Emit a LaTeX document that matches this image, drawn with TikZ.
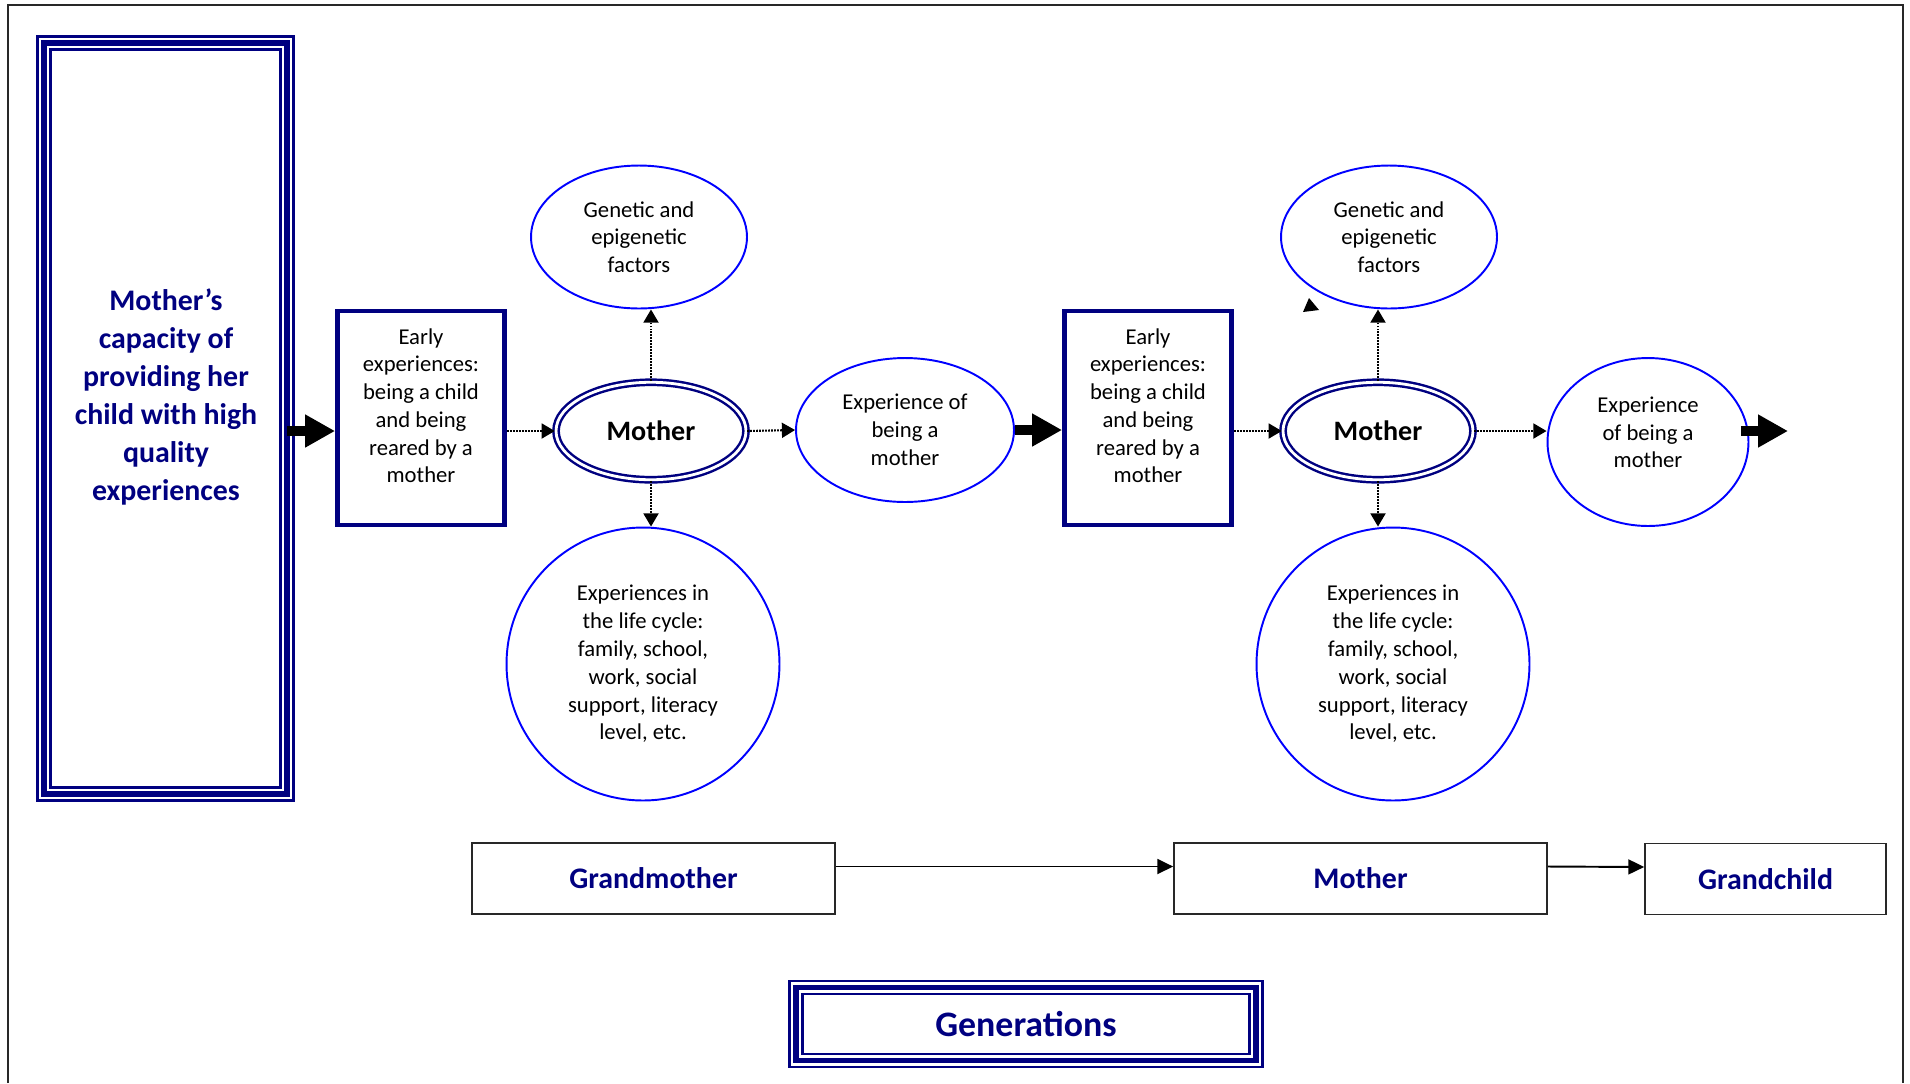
\documentclass[tikz,border=0pt]{standalone}
\usepackage{fontspec}
\setmainfont{Carlito}
\usepackage{tikz}
\usepackage{xcolor}
\usetikzlibrary{shapes.geometric, arrows.meta, positioning, calc}

\definecolor{navy}{RGB}{0,0,128}
\definecolor{ringblue}{RGB}{0,0,255}
\definecolor{framegray}{RGB}{40,40,40}

\tikzset{
  smalltext/.style={font=\fontsize{12.9}{15.8}\selectfont, align=center},
  triplebox/.style={draw=navy, line width=9pt, outer sep=0pt, inner sep=0pt,
    postaction={draw=white, line width=6pt},
    postaction={draw=navy, line width=3pt}},
  earlybox/.style={smalltext, draw=navy, line width=2.8pt, minimum width=3.34cm, minimum height=4.28cm,
    inner sep=0pt, text depth=14pt},
  motherring/.style={ellipse, draw=navy, line width=1.4pt, double=white, double distance=1.6pt,
    minimum width=3.8cm, minimum height=1.95cm, inner sep=0pt, font=\fontsize{16}{19}\selectfont\bfseries},
  bubble/.style={ellipse, smalltext, draw=ringblue, line width=1.1pt, inner sep=0pt},
  genbox/.style={draw=framegray, line width=1pt, minimum height=1.42cm, inner sep=0pt,
    text=navy, font=\fontsize{17}{19}\selectfont\bfseries},
  dotarrow/.style={dash pattern=on 1pt off 0.7pt, line width=1.2pt, -{Triangle[length=7.5pt, width=8.5pt]}},
  bigarrow/.style={line width=5.7pt, -{Triangle[length=17pt, width=17.6pt]}},
  genarrow/.style={line width=1.1pt, -{Triangle[length=9pt, width=8.5pt]}}
}

\begin{document}
\begin{tikzpicture}[x=0.02cm, y=-0.02cm]
\useasboundingbox (0,0) rectangle (1910,1083);

% Outer frame
\draw[framegray, line width=1.2pt] (8,1083) -- (8,5) -- (1903,5) -- (1903,1083);

% Left column
\node[triplebox, minimum width=4.86cm, minimum height=15.02cm] (cap) at (165.5,418.5) {};
\node[text=navy, align=center, font=\fontsize{17}{21.6}\selectfont\bfseries] (capText) at (166,397)
  {Mother's\\capacity of\\providing her\\child with high\\quality\\experiences};

% First generation
\node[earlybox] (early1) at (421,418) {Early\\experiences:\\being a child\\and being\\reared by a\\mother};
\node[motherring] (mother1) at (651,431) {Mother};
\node[bubble, minimum width=4.32cm, minimum height=2.86cm] (genetic1) at (639,237) {Genetic and\\epigenetic\\factors};
\node[bubble, minimum width=5.46cm, minimum height=5.46cm] (lifecycle1) at (643,664)
  {Experiences in\\the life cycle:\\family, school,\\work, social\\support, literacy\\level, etc.};
\node[bubble, minimum width=4.36cm, minimum height=2.88cm] (expmother1) at (905,430) {Experience of\\being a\\mother};

% Second generation
\node[earlybox] (early2) at (1148,418) {Early\\experiences:\\being a child\\and being\\reared by a\\mother};
\node[motherring] (mother2) at (1378,431) {Mother};
\node[bubble, minimum width=4.32cm, minimum height=2.86cm] (genetic2) at (1389,237) {Genetic and\\epigenetic\\factors};
\node[bubble, minimum width=5.46cm, minimum height=5.46cm] (lifecycle2) at (1393,664)
  {Experiences in\\the life cycle:\\family, school,\\work, social\\support, literacy\\level, etc.};
\node[bubble, minimum width=4.02cm, minimum height=3.36cm, text depth=11pt] (expmother2) at (1648,442)
  {Experience\\of being a\\mother};
\coordinate (beyond) at (1788,431);

% Arrows
\draw[bigarrow] (cap.east |- mother1.center) -- (early1.west |- mother1.center);
\draw[dotarrow] (early1.east |- mother1.center) -- (mother1.west);
\draw[dotarrow] (mother1.north) -- (mother1.north |- genetic1.south);
\draw[dotarrow] (mother1.south) -- (mother1.south |- lifecycle1.north);
\draw[dotarrow] (mother1.east) -- (expmother1.west);
\draw[bigarrow] (expmother1.east) -- (early2.west |- expmother1.east);
\draw[dotarrow] (early2.east |- mother2.center) -- (mother2.west);
\draw[dotarrow] (mother2.north) -- (mother2.north |- genetic2.south);
\draw[dotarrow] (mother2.south) -- (mother2.south |- lifecycle2.north);
\draw[dotarrow] (mother2.east) -- (mother2.east -| expmother2.west);
\draw[bigarrow] ([xshift=-0.16cm]expmother2.east |- beyond) -- (beyond);

% Stray tip
\fill (1309,298) -- (1303,312) -- (1319,310) -- cycle;

% Generations row
\node[genbox, minimum width=7.26cm] (grandmother) at (653.5,878.5) {Grandmother};
\node[genbox, minimum width=7.46cm] (mothergen) at (1360.5,878.5) {Mother};
\node[genbox, minimum width=4.82cm] (grandchild) at (1765.5,879) {Grandchild};
\draw[genarrow] ([yshift=0.24cm]grandmother.east) -- ([yshift=0.24cm]mothergen.west);
\draw[genarrow] ([yshift=0.24cm]mothergen.east) -- ([yshift=0.24cm]grandchild.west);

\node[triplebox, minimum width=9.2cm, minimum height=1.46cm, text=navy, font=\fontsize{20.4}{24}\selectfont\bfseries]
  (generations) at (1026,1024) {Generations};
\end{tikzpicture}
\end{document}
